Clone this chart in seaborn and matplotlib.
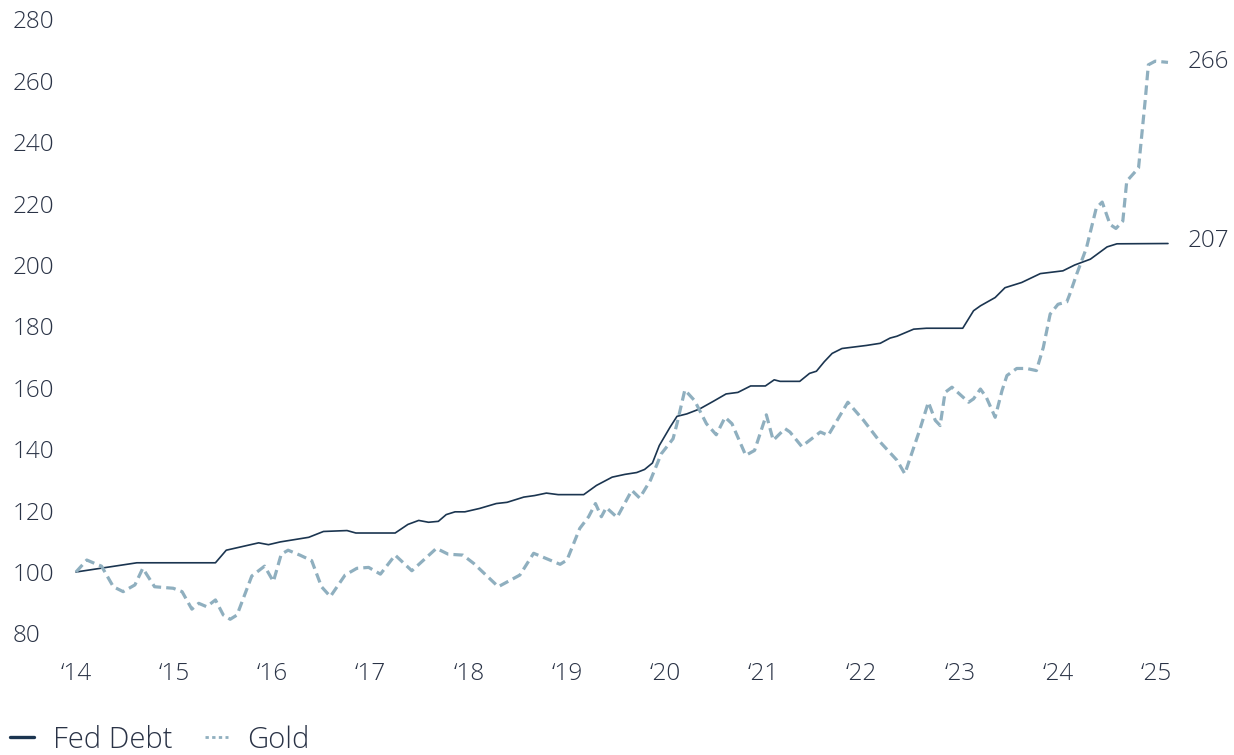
import numpy as np
import pandas as pd
import matplotlib
matplotlib.use("Agg")
import matplotlib.pyplot as plt
from matplotlib.lines import Line2D
import seaborn as sns

# indexed to 100 at start of 2014
debt_year = [2014.00, 2014.62, 2015.42, 2015.53, 2015.86, 2015.96, 2016.08, 2016.37, 2016.52,
             2016.76, 2016.85, 2017.25, 2017.38, 2017.49, 2017.59, 2017.69, 2017.77, 2017.86,
             2017.96, 2018.11, 2018.28, 2018.39, 2018.56, 2018.67, 2018.79, 2018.91, 2019.17,
             2019.30, 2019.46, 2019.59, 2019.71, 2019.79, 2019.87, 2019.94, 2020.05, 2020.12,
             2020.22, 2020.35, 2020.49, 2020.62, 2020.74, 2020.87, 2021.02, 2021.11, 2021.17,
             2021.37, 2021.47, 2021.54, 2021.62, 2021.70, 2021.80, 2022.05, 2022.19, 2022.29,
             2022.36, 2022.53, 2022.66, 2023.03, 2023.14, 2023.21, 2023.36, 2023.46, 2023.63,
             2023.82, 2024.05, 2024.17, 2024.33, 2024.50, 2024.60, 2025.12]
debt_val = [100.0, 103.0, 103.0, 107.1, 109.5, 108.9, 109.8, 111.3, 113.2,
            113.5, 112.7, 112.7, 115.5, 116.8, 116.2, 116.5, 118.7, 119.6,
            119.6, 120.7, 122.3, 122.7, 124.4, 124.9, 125.7, 125.2, 125.2,
            128.2, 130.9, 131.8, 132.4, 133.4, 135.5, 141.2, 147.2, 150.7,
            151.5, 153.1, 155.6, 158.0, 158.5, 160.6, 160.6, 162.6, 162.1,
            162.1, 164.7, 165.4, 168.5, 171.2, 172.8, 173.8, 174.5, 176.2,
            176.8, 179.1, 179.4, 179.4, 185.1, 186.7, 189.4, 192.6, 194.3,
            197.2, 198.1, 200.0, 201.9, 205.9, 206.9, 207.0]

gold_year = [2014.00, 2014.11, 2014.19, 2014.26, 2014.38, 2014.48, 2014.60, 2014.68, 2014.80,
             2014.99, 2015.08, 2015.18, 2015.25, 2015.33, 2015.42, 2015.50, 2015.57, 2015.64,
             2015.79, 2015.92, 2016.01, 2016.09, 2016.16, 2016.28, 2016.40, 2016.50, 2016.59,
             2016.74, 2016.86, 2016.98, 2017.10, 2017.25, 2017.42, 2017.67, 2017.79, 2017.94,
             2018.05, 2018.30, 2018.52, 2018.66, 2018.93, 2019.00, 2019.13, 2019.22, 2019.29,
             2019.35, 2019.40, 2019.51, 2019.66, 2019.74, 2019.85, 2019.96, 2020.08, 2020.12,
             2020.20, 2020.30, 2020.42, 2020.52, 2020.61, 2020.68, 2020.82, 2020.91, 2021.03,
             2021.10, 2021.22, 2021.27, 2021.39, 2021.58, 2021.66, 2021.86, 2022.02, 2022.19,
             2022.36, 2022.44, 2022.59, 2022.68, 2022.75, 2022.80, 2022.85, 2022.92, 2023.09,
             2023.14, 2023.21, 2023.27, 2023.36, 2023.43, 2023.48, 2023.58, 2023.68, 2023.78,
             2023.85, 2023.92, 2024.00, 2024.09, 2024.12, 2024.19, 2024.29, 2024.39, 2024.45,
             2024.53, 2024.59, 2024.66, 2024.70, 2024.82, 2024.89, 2024.92, 2024.99, 2025.12]
gold_val = [100.0, 103.9, 102.8, 101.9, 95.2, 93.6, 95.8, 101.2, 95.2,
            94.7, 93.6, 87.9, 89.8, 88.7, 90.9, 86.0, 84.6, 86.0,
            98.7, 101.9, 96.9, 105.8, 107.1, 105.5, 103.7, 95.2, 92.0,
            99.0, 101.2, 101.5, 99.3, 105.5, 100.4, 107.7, 105.8, 105.5,
            102.8, 95.2, 99.0, 106.1, 102.5, 103.9, 114.2, 118.0, 122.3,
            118.0, 121.0, 117.8, 126.6, 124.1, 129.9, 138.5, 143.4, 148.3,
            159.3, 155.8, 148.3, 144.7, 150.4, 148.3, 138.0, 139.6, 151.2,
            142.9, 146.7, 145.6, 140.9, 145.6, 144.5, 155.3, 149.4, 142.3,
            136.4, 132.0, 146.1, 155.3, 149.4, 147.7, 158.5, 160.2, 155.3,
            156.4, 159.6, 156.9, 150.4, 159.1, 164.0, 166.3, 166.3, 165.6,
            173.1, 184.0, 187.2, 188.0, 190.5, 197.0, 205.6, 218.6, 220.5,
            213.2, 211.9, 214.3, 227.3, 231.6, 254.3, 265.2, 266.4, 266.0]

year_ticks = list(range(2014, 2026))
year_labels = ["\u2018" + str(y)[2:] for y in year_ticks]
y_ticks = list(range(80, 281, 20))

debt_color = "#1b3550"
gold_color = "#8fafbf"
text_color = "#2a3346"

sns.set_style("white")
plt.rcParams["font.family"] = ["Open Sans", "DejaVu Sans"]
plt.rcParams["font.weight"] = "light"

fig = plt.figure(figsize=(12.34, 7.55), dpi=100)
W, H = 1234, 755
ax = fig.add_axes([60 / W, 1 - 650 / H, (1180 - 60) / W, (650 - 10) / H])

debt = pd.DataFrame({"year": debt_year, "value": debt_val})
gold = pd.DataFrame({"year": gold_year, "value": gold_val})

sns.lineplot(data=debt, x="year", y="value", ax=ax, color=debt_color, linewidth=1.2)
sns.lineplot(data=gold, x="year", y="value", ax=ax, color=gold_color, linewidth=2.3)
ax.lines[-1].set_linestyle((0, (3, 1.6)))

ax.set_xlim(2014 - 16 / 98.2, 2014 + (1180 - 76) / 98.2)
ax.set_ylim(100 - (650 - 572) / 3.07, 100 + (572 - 10) / 3.07)
ax.set_xticks(year_ticks)
ax.set_xticklabels(year_labels)
ax.set_yticks(y_ticks)
ax.set_yticklabels([str(v) for v in y_ticks])
for lbl in ax.get_yticklabels():
    lbl.set_horizontalalignment("left")
ax.tick_params(axis="y", length=0, pad=34, labelsize=17.5, labelcolor=text_color)
ax.tick_params(axis="x", length=0, pad=9, labelsize=17.5, labelcolor=text_color)
ax.set_xlabel("")
ax.set_ylabel("")
for s in ax.spines.values():
    s.set_visible(False)

# end labels
ax.annotate(f"{gold_val[-1]:.0f}", xy=(gold_year[-1], gold_val[-1]), xytext=(14, 0),
            textcoords="offset points", va="center", ha="left", fontsize=17.5, color=text_color)
ax.annotate(f"{debt_val[-1]:.0f}", xy=(debt_year[-1], debt_val[-1]), xytext=(14, 2),
            textcoords="offset points", va="center", ha="left", fontsize=17.5, color=text_color)

h1 = Line2D([], [], color=debt_color, linewidth=2.4)
h2 = Line2D([], [], color=gold_color, linewidth=2.0, linestyle=(0, (1.2, 1.2)))
fig.legend([h1, h2], ["Fed Debt", "Gold"], loc="lower left", bbox_to_anchor=(0.0025, -0.009),
           ncol=2, frameon=False, fontsize=21, labelcolor=text_color, handlelength=0.8,
           handletextpad=0.65, columnspacing=1.13, borderaxespad=0, borderpad=0.25)

fig.savefig("out.png", dpi=100)
